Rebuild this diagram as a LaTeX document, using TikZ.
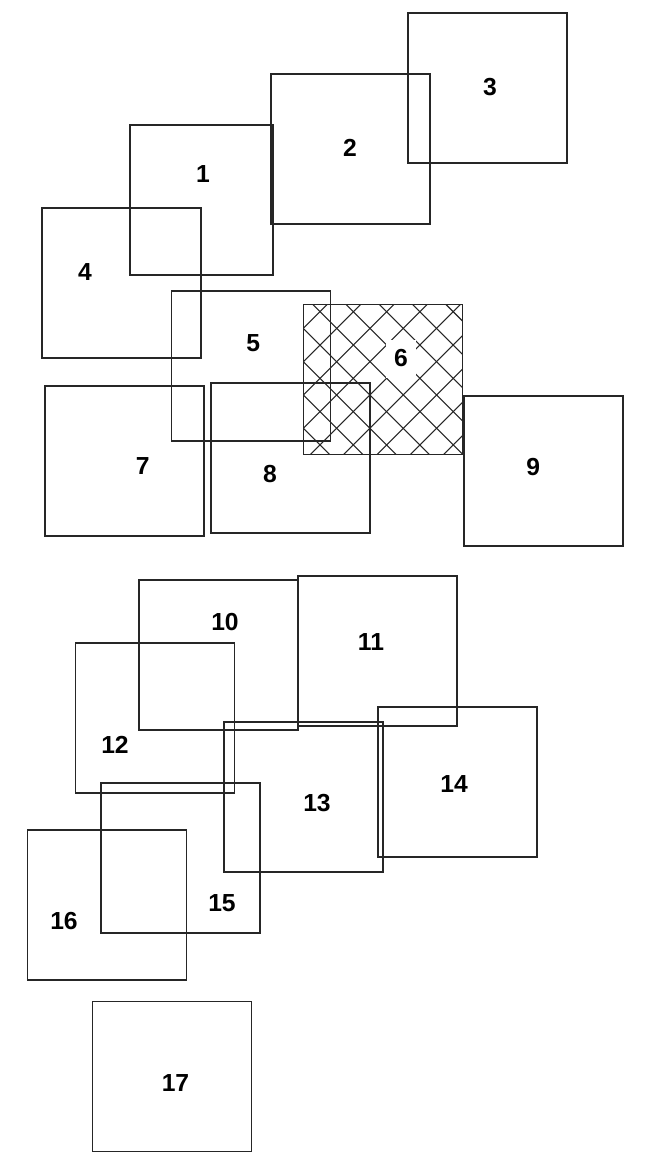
\documentclass[tikz,border=0pt]{standalone}
\usepackage{fontspec}
\setmainfont{Liberation Sans}
\begin{document}
\begin{tikzpicture}[x=0.75pt,y=-0.75pt,
  sq/.style={draw=black!85,line width=0.8pt,minimum width=119.25pt,minimum height=112.5pt,inner sep=0pt,outer sep=0pt},
  lbl/.style={font=\fontsize{18.5pt}{21pt}\selectfont\bfseries,inner sep=0pt},
  hatch/.style={draw=black!85,line width=0.8pt}]
\useasboundingbox[fill=white] (0,0) rectangle (653,1161);
% squares
\node[sq,minimum width=107.25pt] (s1) at (201.5,200) {};
\node[sq] (s2) at (350.5,149) {};
\node[sq] (s3) at (487.5,88) {};
\node[sq] (s4) at (121.5,283) {};
\node[sq] (s5) at (251,366) {};
\node[sq] (s6) at (382.9,379.4) {};
\begin{scope}
  \clip (s6.south west) rectangle (s6.north east);
  \foreach \k in {-5,...,5}
    \draw[hatch] ({8.3+33.3*\k+290},290) -- ({8.3+33.3*\k+470},470);
  \foreach \k in {-1,...,9}
    \draw[hatch] ({631.7+33.3*\k-290},290) -- ({631.7+33.3*\k-470},470);
\end{scope}
\node[sq] at (s6) {};
\node[sq] (s7) at (124.5,461) {};
\node[sq] (s8) at (290.5,458) {};
\node[sq] (s9) at (543.5,471) {};
\node[sq] (s10) at (218.5,655) {};
\node[sq] (s11) at (377.5,651) {};
\node[sq] (s12) at (155,718) {};
\node[sq] (s13) at (303.5,797) {};
\node[sq] (s14) at (457.5,782) {};
\node[sq] (s15) at (180.5,858) {};
\node[sq] (s16) at (107,905) {};
\node[sq] (s17) at (172.2,1076.7) {};
% labels
\node[lbl] (l1) at (203,174) {1};
\node[lbl] (l2) at (350,148) {2};
\node[lbl] (l3) at (490,87) {3};
\node[lbl] (l4) at (85,272) {4};
\node[lbl] (l5) at (253.3,343.3) {5};
\node[lbl,fill=white,minimum width=22.5pt,minimum height=28.5pt] (l6) at (401,358.5) {6};
\node[lbl] (l7) at (142.7,465.7) {7};
\node[lbl] (l8) at (270,474) {8};
\node[lbl] (l9) at (533.3,466.7) {9};
\node[lbl] (l10) at (225,622) {10};
\node[lbl] (l11) at (371,642) {11};
\node[lbl] (l12) at (115,745) {12};
\node[lbl] (l13) at (317,803) {13};
\node[lbl] (l14) at (454,784) {14};
\node[lbl] (l15) at (222,903) {15};
\node[lbl] (l16) at (64,921) {16};
\node[lbl] (l17) at (175.5,1083.5) {17};
\end{tikzpicture}
\end{document}
